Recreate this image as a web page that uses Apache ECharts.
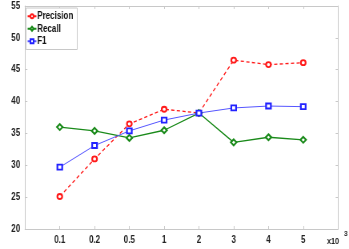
<!DOCTYPE html>
<html><head><meta charset="utf-8">
<script src="https://cdn.jsdelivr.net/npm/echarts@6/dist/echarts.min.js"></script>
<style>
html,body{margin:0;padding:0;background:#fff;overflow:hidden;width:349px;height:249px}
#c{width:436px;height:249px;transform:scaleX(0.8005);transform-origin:0 0}
</style>
</head><body><div id="c"></div>
<script>
var categories = ['', '0.1', '0.2', '0.5', '1', '2', '3', '4', '5', ''];
var precision = [null, 25.1, 31.0, 36.5, 38.8, 38.2, 46.5, 45.8, 46.1, null];
var recall = [null, 36.0, 35.4, 34.3, 35.5, 38.2, 33.6, 34.4, 34.0, null];
var f1 = [null, 29.7, 33.1, 35.4, 37.1, 38.2, 39.0, 39.3, 39.2, null];
var yTicks = [20, 25, 30, 35, 40, 45, 50, 55];

var S = 0.8005; // horizontal squeeze applied via CSS
var FONT = "'Liberation Sans',Arial,sans-serif";
var axisLine = {show: true, lineStyle: {color: '#c8c8c8', width: 1}};
var tick = {show: true, inside: true, length: 3, lineStyle: {color: '#c8c8c8'}};
var chart = echarts.init(document.getElementById('c'));
chart.setOption({
  animation: false,
  grid: {left: 25 / S, right: 11 / S, top: 6, bottom: 20, containLabel: false},
  legend: {
    orient: 'vertical', left: 26 / S, top: 8, padding: [3, 5, 3, 1], itemGap: 2,
    itemWidth: 11, itemHeight: 5,
    backgroundColor: '#fff', borderColor: '#c8c8c8', borderWidth: 1,
    textStyle: {fontFamily: FONT, fontSize: 10, fontWeight: 'bold', color: '#111', padding: [0, 0, 0, -4], lineHeight: 10.5},
    data: ['Precision', 'Recall', 'F1']
  },
  xAxis: [{
    type: 'category', data: categories, boundaryGap: false,
    axisLine: axisLine, axisTick: Object.assign({interval: 0}, tick),
    axisLabel: {fontFamily: FONT, fontSize: 10, fontWeight: 'bold', color: '#222', interval: 0, margin: 6},
    splitLine: {show: false}
  }, {
    type: 'category', data: categories, boundaryGap: false, position: 'top',
    axisLine: axisLine, axisTick: Object.assign({interval: 0}, tick),
    axisLabel: {show: false}, splitLine: {show: false}
  }],
  yAxis: [{
    type: 'value', min: 20, max: 55, interval: 5,
    axisLine: axisLine, axisTick: tick,
    axisLabel: {fontFamily: FONT, fontSize: 10, fontWeight: 'bold', color: '#222', margin: 6,
      formatter: function (v) { return yTicks.indexOf(v) >= 0 ? String(v) : ''; }},
    splitLine: {show: false}
  }, {
    type: 'value', min: 20, max: 55, interval: 5, position: 'right',
    axisLine: axisLine, axisTick: tick,
    axisLabel: {show: false}, splitLine: {show: false}
  }],
  series: [{
    name: 'Precision', type: 'line', data: precision,
    symbol: 'emptyCircle', symbolSize: [6, 5], showAllSymbol: true,
    lineStyle: {color: '#ff1a1a', width: 1.3, type: [4, 3]},
    itemStyle: {color: '#ff1a1a', borderColor: '#ff1a1a', borderWidth: 1.1}
  }, {
    name: 'Recall', type: 'line', data: recall,
    symbol: 'emptyDiamond', symbolSize: [7, 6], showAllSymbol: true,
    lineStyle: {color: '#1a8a1a', width: 1.3},
    itemStyle: {color: '#1a8a1a', borderColor: '#1a8a1a', borderWidth: 1.1}
  }, {
    name: 'F1', type: 'line', data: f1,
    symbol: 'emptyRect', symbolSize: [6, 5], showAllSymbol: true,
    lineStyle: {color: '#5555ff', width: 1},
    itemStyle: {color: '#2222ff', borderColor: '#2222ff', borderWidth: 1.1}
  }],
  graphic: [
    {type: 'text', left: 327 / S, top: 237, style: {text: 'x10', font: 'bold 9px ' + FONT, fill: '#222'}},
    {type: 'text', left: 344 / S, top: 230, style: {text: '3', font: 'bold 8px ' + FONT, fill: '#222'}}
  ]
});
</script></body></html>
